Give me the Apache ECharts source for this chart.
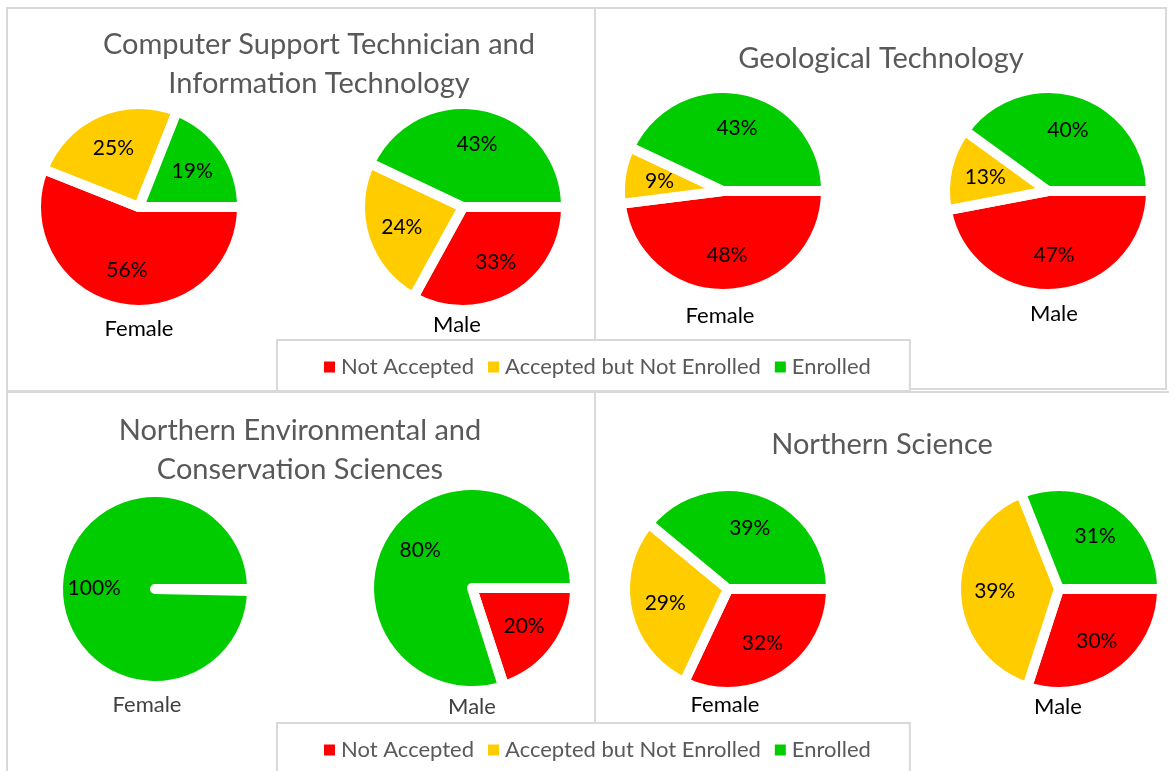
<!DOCTYPE html>
<html>
<head>
<meta charset="utf-8">
<script src="https://cdn.jsdelivr.net/npm/echarts@6/dist/echarts.min.js"></script>
<style>
  html, body { margin: 0; padding: 0; background: #fff; }
  #main { width: 1169px; height: 771px; }
</style>
</head>
<body>
<div id="main"></div>
<script>
// program titles, one per panel
const programs = [
    'Computer Support Technician and\nInformation Technology',
    'Geological Technology',
    'Northern Environmental and\nConservation Sciences',
    'Northern Science'
];
const statuses = ['Not Accepted', 'Accepted but Not Enrolled', 'Enrolled'];
const genders = ['Female', 'Male'];
// shares in %, order = statuses
const femaleShares = [[56, 25, 19], [48, 9, 43], [0, 0, 100], [32, 29, 39]];
const maleShares = [[33, 24, 43], [47, 13, 40], [20, 0, 80], [30, 39, 31]];

const colors = ['#FF0000', '#FFCC00', '#00CC00'];
const font = 'Lato';

// panel layout: title centre, pie centres, gender label tops
const panels = [
    { tx: 319, ty: 25, pies: [[139, 207], [463, 207]], lab: [[139, 318], [457, 314]], labColor: '#000' },
    { tx: 881, ty: 39, pies: [[723, 191], [1048, 191]], lab: [[720, 305], [1054, 303]], labColor: '#000' },
    { tx: 300, ty: 411, pies: [[155, 589], [472, 588]], lab: [[147, 694], [472, 696]], labColor: '#404040' },
    { tx: 882, ty: 425, pies: [[728, 589], [1059, 589]], lab: [[725, 694], [1058, 696]], labColor: '#000' }
];

let myChart = echarts.init(document.getElementById('main'));

// push inside labels a bit further out from the pie centre, like Excel's best fit
function pushOut(center) {
    return function (params) {
        let r = params.labelRect;
        let lx = r.x + r.width / 2, ly = r.y + r.height / 2;
        return {
            x: center[0] + (lx - center[0]) * 1.18,
            y: center[1] + (ly - center[1]) * 1.18
        };
    };
}

let titles = [];
let series = [];
panels.forEach(function (p, i) {
    titles.push({
        text: programs[i],
        left: p.tx,
        top: p.ty,
        textAlign: 'center',
        padding: 0,
        textStyle: { fontFamily: font, fontSize: 29, fontWeight: 'normal', color: '#595959', lineHeight: 39 }
    });
    genders.forEach(function (g, j) {
        titles.push({
            text: g,
            left: p.lab[j][0],
            top: p.lab[j][1],
            textAlign: 'center',
            padding: 0,
            textStyle: { fontFamily: font, fontSize: 22, fontWeight: 'normal', color: p.labColor }
        });
        let shares = j === 0 ? femaleShares[i] : maleShares[i];
        series.push({
            name: programs[i] + ' ' + g,
            type: 'pie',
            center: p.pies[j],
            radius: (i === 2 && j === 0) ? 97 : 103,
            startAngle: 0,
            clockwise: true,
            minAngle: 0.6,
            avoidLabelOverlap: false,
            silent: true,
            itemStyle: { borderColor: '#fff', borderWidth: 10 },
            label: {
                position: 'inside',
                fontFamily: font,
                fontSize: 21,
                color: '#000',
                formatter: function (d) { return d.value ? d.value + '%' : ''; }
            },
            labelLayout: pushOut(p.pies[j]),
            labelLine: { show: false },
            data: statuses.map(function (s, k) {
                return { name: s, value: shares[k], itemStyle: { color: colors[k] } };
            })
        });
    });
});

const legendBase = {
    data: statuses,
    left: 277,
    padding: [16, 39, 13, 45],
    itemWidth: 13,
    itemHeight: 13,
    itemGap: 12,
    icon: 'rect',
    borderColor: '#d9d9d9',
    borderWidth: 2,
    backgroundColor: '#fff',
    textStyle: { fontFamily: font, fontSize: 22, color: '#595959' }
};

let frame = { stroke: '#d9d9d9', lineWidth: 2 };

let option = {
    animation: false,
    color: colors,
    title: titles,
    legend: [
        Object.assign({ top: 340 }, legendBase),
        Object.assign({ top: 723 }, legendBase)
    ],
    graphic: [
        { type: 'rect', z: -1, shape: { x: 7, y: 8, width: 588, height: 383 }, style: Object.assign({ fill: 'none' }, frame) },
        { type: 'rect', z: -1, shape: { x: 595, y: 8, width: 571, height: 381 }, style: Object.assign({ fill: 'none' }, frame) },
        { type: 'rect', z: -1, shape: { x: 7, y: 392, width: 588, height: 400 }, style: Object.assign({ fill: 'none' }, frame) },
        { type: 'rect', z: -1, shape: { x: 595, y: 392, width: 590, height: 400 }, style: Object.assign({ fill: 'none' }, frame) }
    ],
    series: series
};

myChart.setOption(option, true);
window.addEventListener('resize', function () {
    myChart.resize();
});
</script>
</body>
</html>
